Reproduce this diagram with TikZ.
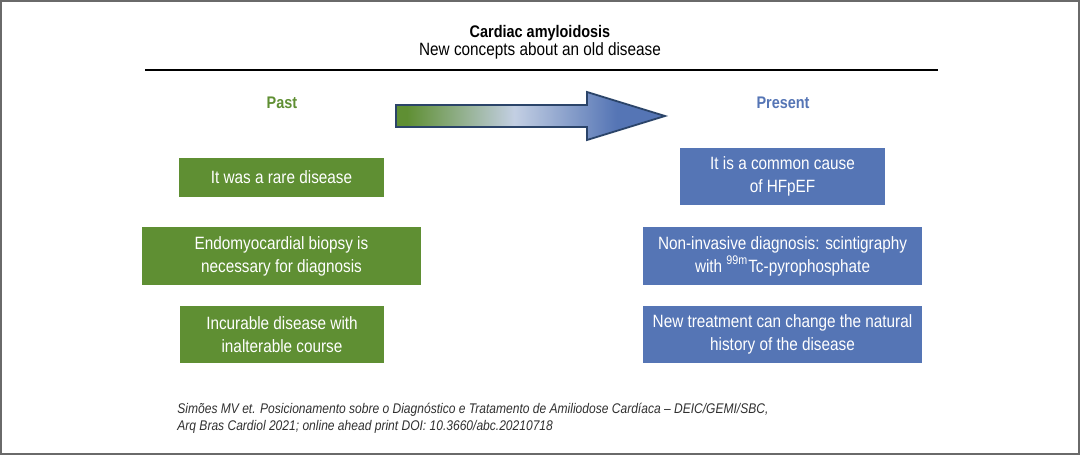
\documentclass[tikz,border=0pt]{standalone}
\usepackage{fontspec}
\setmainfont[FakeStretch=0.86]{Liberation Sans}
\usetikzlibrary{positioning}
\definecolor{pastgreen}{HTML}{5F8F33}
\definecolor{presblue}{HTML}{5575B5}
\definecolor{lightblue}{HTML}{C3CFE3}
\definecolor{arrowedge}{HTML}{2B4469}
\definecolor{framegray}{HTML}{6A6A6A}
\definecolor{reftext}{HTML}{303030}
\pgfdeclarehorizontalshading{pastpresent}{100bp}{color(0bp)=(pastgreen); color(27bp)=(pastgreen); color(47bp)=(lightblue); color(66bp)=(presblue); color(100bp)=(presblue)}

\begin{document}
\begin{tikzpicture}[x=0.5pt,y=-0.5pt,
  every node/.style={inner sep=0pt,font=\fontsize{8.9}{11.5}\selectfont},
  heading/.style={font=\fontsize{8.4}{11.5}\selectfont\bfseries,anchor=base},
  pastbox/.style={fill=pastgreen,text=white,align=center},
  presbox/.style={fill=presblue,text=white,align=center}]
\useasboundingbox (0,0) rectangle (1080,455);
\draw [framegray, line width=1pt] (1,1) rectangle (1079,454);
\node [heading] (title) at (540,37.3) {Cardiac amyloidosis};
\node [anchor=base] (subtitle) at (540,55) {New concepts about an old disease};
\draw [black, line width=1pt] (145,70) -- (938,70);
\node [heading, text=pastgreen] (past) at (282,108) {Past};
\node [heading, text=presblue] (present) at (783,108) {Present};
\draw [arrowedge, line width=0.9pt, shading=pastpresent] (396,105) -- (587,105) -- (587,92) -- (665,116) -- (587,140) -- (587,127) -- (396,127) -- cycle;
\node [pastbox, minimum width=102.5pt, minimum height=19.5pt] (pastA) at (281.5,177.5) {It was a rare disease};
\node [pastbox, minimum width=139.5pt, minimum height=29pt] (pastB) at (281.5,256) {Endomyocardial biopsy is\\necessary for diagnosis};
\node [pastbox, minimum width=102pt, minimum height=28.5pt] (pastC) at (282,334.5) {Incurable disease with\\inalterable course};
\node [presbox, minimum width=102.5pt, minimum height=28.5pt] (presA) at (782.5,176.5) {It is a common cause\\of HFpEF};
\node [presbox, minimum width=139.5pt, minimum height=29pt] (presB) at (782.5,256) {Non-invasive diagnosis: scintigraphy\\with \textsuperscript{99m}Tc-pyrophosphate};
\node [presbox, minimum width=139.5pt, minimum height=28.5pt] (presC) at (782.5,334.5) {New treatment can change the natural\\history of the disease};
\node [anchor=base west, align=left, text=reftext, font=\fontsize{7}{8.5}\selectfont\itshape] (ref) at (177,430) {Simões MV et. Posicionamento sobre o Diagnóstico e Tratamento de Amiliodose Cardíaca – DEIC/GEMI/SBC,\\Arq Bras Cardiol 2021; online ahead print DOI: 10.3660/abc.20210718};
\end{tikzpicture}
\end{document}
